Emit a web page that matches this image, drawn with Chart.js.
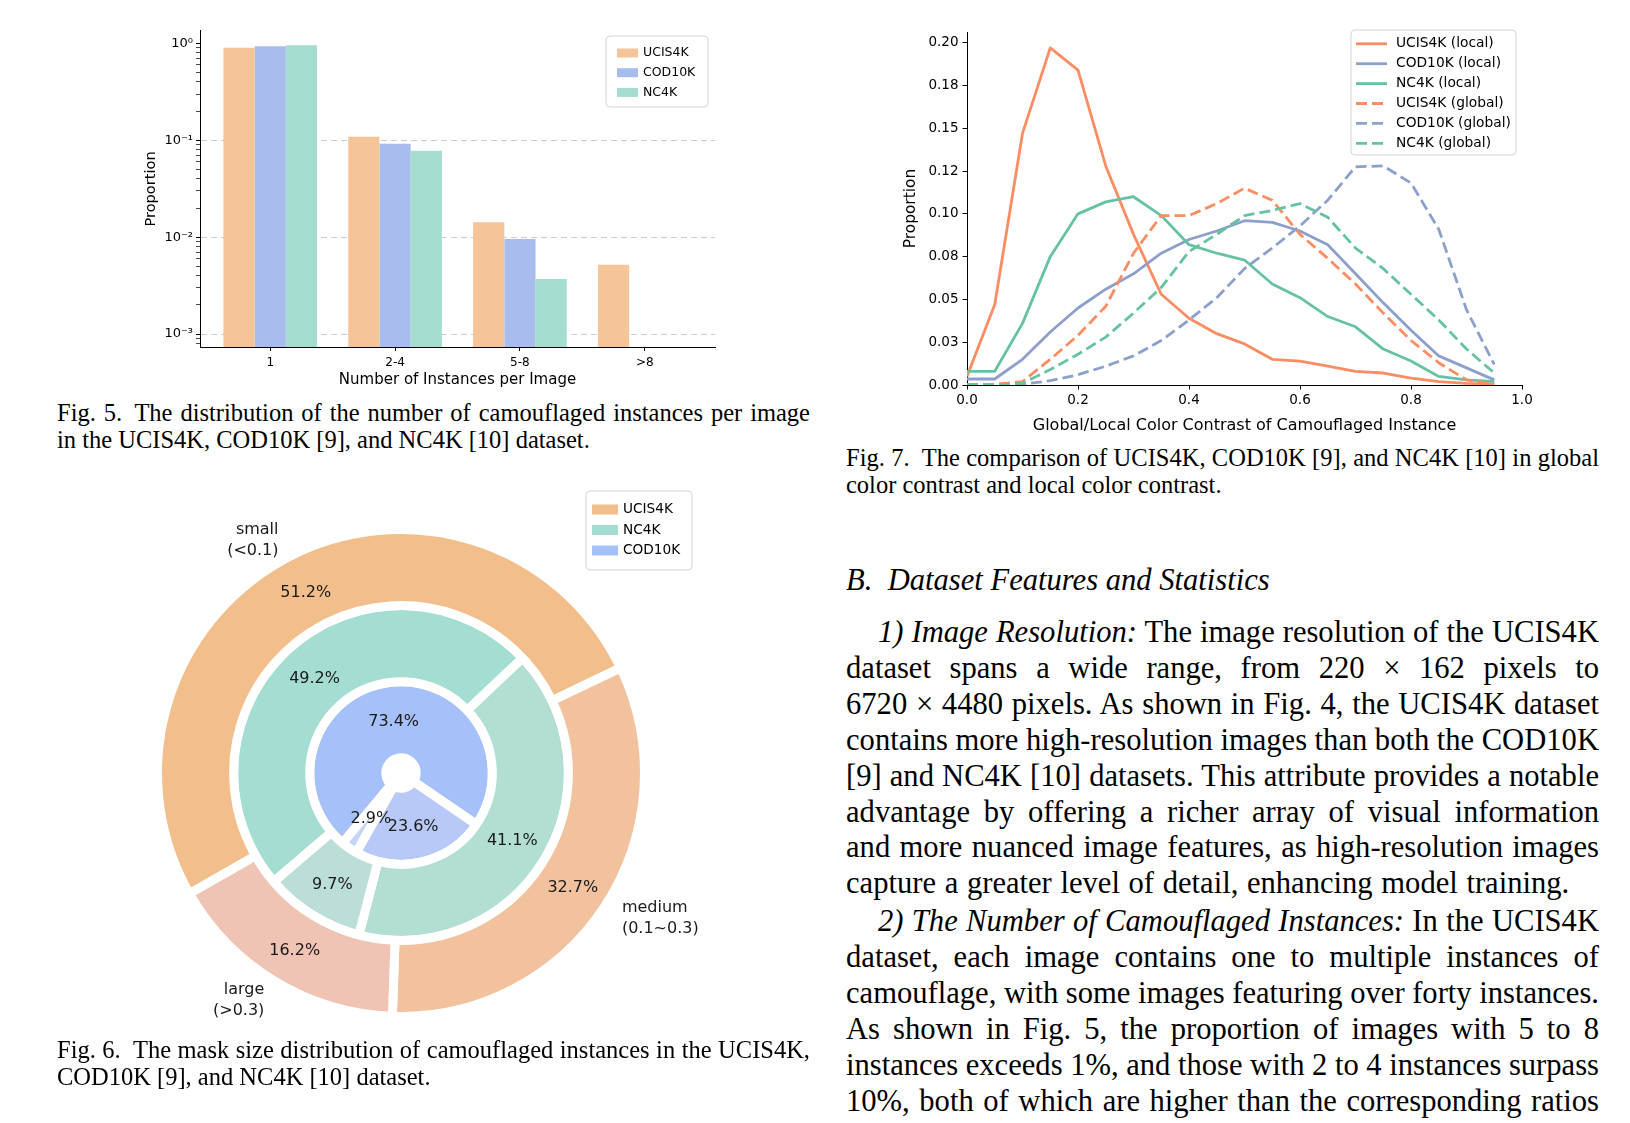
<!DOCTYPE html>
<html lang="en">
<head>
<meta charset="UTF-8">
<title>UCIS4K statistics</title>
<script src="https://cdn.jsdelivr.net/npm/chart.js"></script>
<style>
    html, body { margin: 0; padding: 0; background: #fff; }
    body { width: 1630px; height: 1123px; position: relative; overflow: hidden; }
    canvas { position: absolute; }
    .t { position: absolute; font-family: "Liberation Serif", "Times New Roman", serif; color: #000; }
    .cap { font-size: 24.5px; line-height: 26.5px; width: 753px; }
    .body { font-size: 30.6px; line-height: 35.9px; width: 753px; }
    .j { text-align: justify; text-align-last: justify; white-space: nowrap; word-spacing: -2px; }
</style>
</head>
<body>

<canvas id="barChart" width="600" height="370" style="left:130px;top:20px"></canvas>
<canvas id="lineChart" width="665" height="417" style="left:880px;top:20px"></canvas>
<canvas id="donutChart" width="580" height="560" style="left:140px;top:480px"></canvas>

<div class="t cap" style="left:57px;top:400px">
    <div class="j">Fig. 5.&ensp;The distribution of the number of camouflaged instances per image</div>
    <div>in the UCIS4K, COD10K [9], and NC4K [10] dataset.</div>
</div>

<div class="t cap" style="left:57px;top:1037px">
    <div class="j">Fig. 6.&ensp;The mask size distribution of camouflaged instances in the UCIS4K,</div>
    <div>COD10K [9], and NC4K [10] dataset.</div>
</div>

<div class="t cap" style="left:846px;top:445px">
    <div class="j">Fig. 7.&ensp;The comparison of UCIS4K, COD10K [9], and NC4K [10] in global</div>
    <div>color contrast and local color contrast.</div>
</div>

<div class="t" style="left:846px;top:563px;font-size:30.6px;line-height:35.9px;font-style:italic">B.&ensp;Dataset Features and Statistics</div>

<div class="t body" style="left:846px;top:615px">
    <div class="j" style="padding-left:32px"><i>1) Image Resolution:</i> The image resolution of the UCIS4K</div>
    <div class="j">dataset spans a wide range, from 220 &times; 162 pixels to</div>
    <div class="j">6720 &times; 4480 pixels. As shown in Fig. 4, the UCIS4K dataset</div>
    <div class="j">contains more high-resolution images than both the COD10K</div>
    <div class="j">[9] and NC4K [10] datasets. This attribute provides a notable</div>
    <div class="j">advantage by offering a richer array of visual information</div>
    <div class="j">and more nuanced image features, as high-resolution images</div>
    <div style="word-spacing:1px">capture a greater level of detail, enhancing model training.</div>
</div>

<div class="t body" style="left:846px;top:904px">
    <div class="j" style="padding-left:32px"><i>2) The Number of Camouflaged Instances:</i> In the UCIS4K</div>
    <div class="j">dataset, each image contains one to multiple instances of</div>
    <div class="j">camouflage, with some images featuring over forty instances.</div>
    <div class="j">As shown in Fig. 5, the proportion of images with 5 to 8</div>
    <div class="j">instances exceeds 1%, and those with 2 to 4 instances surpass</div>
    <div class="j">10%, both of which are higher than the corresponding ratios</div>
</div>

<script>
// Fig. 5 - instances per image (log scale)
const countBins = ["1", "2-4", "5-8", ">8"];
const ucisShare = [0.90, 0.109, 0.0143, 0.0052];
const codShare = [0.935, 0.092, 0.0096, null];
const nc4kShare = [0.96, 0.078, 0.0037, null];
const decadeValues = [0.001, 0.01, 0.1, 1];
const decadeLabels = ["10⁻³", "10⁻²", "10⁻¹", "10⁰"];

// Fig. 7 - colour contrast curves
const contrastBins = [0, 0.05, 0.1, 0.15, 0.2, 0.25, 0.3, 0.35, 0.4, 0.45, 0.5, 0.55, 0.6, 0.65, 0.7, 0.75, 0.8, 0.85, 0.9, 0.95];
const ucisLocal = [0.005, 0.047, 0.147, 0.197, 0.184, 0.128, 0.088, 0.053, 0.039, 0.030, 0.024, 0.015, 0.014, 0.011, 0.008, 0.007, 0.004, 0.002, 0.001, 0.0005];
const codLocal = [0.0035, 0.0035, 0.015, 0.031, 0.045, 0.056, 0.065, 0.077, 0.085, 0.090, 0.096, 0.095, 0.090, 0.082, 0.065, 0.048, 0.032, 0.017, 0.010, 0.003];
const nc4kLocal = [0.008, 0.008, 0.036, 0.075, 0.100, 0.107, 0.110, 0.099, 0.082, 0.077, 0.073, 0.059, 0.051, 0.040, 0.034, 0.021, 0.014, 0.005, 0.003, 0.002];
const ucisGlobal = [0.0004, 0.0004, 0.002, 0.015, 0.029, 0.046, 0.077, 0.099, 0.099, 0.106, 0.115, 0.108, 0.088, 0.074, 0.059, 0.042, 0.026, 0.013, 0.003, 0.0004];
const codGlobal = [0, 0, 0.0004, 0.0025, 0.006, 0.011, 0.017, 0.026, 0.038, 0.051, 0.068, 0.080, 0.093, 0.108, 0.1275, 0.128, 0.118, 0.091, 0.044, 0.012];
const nc4kGlobal = [0, 0, 0.001, 0.009, 0.018, 0.028, 0.042, 0.057, 0.078, 0.088, 0.099, 0.102, 0.106, 0.098, 0.080, 0.068, 0.053, 0.038, 0.021, 0.007];
const contrastTickLabels = ["0.00", "0.03", "0.05", "0.08", "0.10", "0.12", "0.15", "0.18", "0.20"];

// Fig. 6 - mask size rings
const sizeNames = [["small", "(<0.1)"], ["medium", "(0.1~0.3)"], ["large", "(>0.3)"]];
const ucisMask = [51.2, 32.7, 16.2];
const nc4kMask = [49.2, 41.1, 9.7];
const codMask = [73.4, 23.6, 2.9];

Chart.defaults.font.family = '"DejaVu Sans", sans-serif';
Chart.defaults.color = "#000";

const set2 = { orange: "#fc8d62", blue: "#8da0cb", green: "#66c2a5" };

function isDecade(v) {
    if (!v) return false;
    const l = Math.log10(v);
    return Math.abs(l - Math.round(l)) < 1e-9;
}

// legend in a rounded box, matplotlib style
const boxLegend = {
    id: "boxLegend",
    afterDraw(chart, args, o) {
        const ctx = chart.ctx;
        const [bx, by, bw, bh] = o.box;
        ctx.save();
        ctx.beginPath();
        const r = 4;
        ctx.moveTo(bx + r, by);
        ctx.arcTo(bx + bw, by, bx + bw, by + bh, r);
        ctx.arcTo(bx + bw, by + bh, bx, by + bh, r);
        ctx.arcTo(bx, by + bh, bx, by, r);
        ctx.arcTo(bx, by, bx + bw, by, r);
        ctx.closePath();
        ctx.fillStyle = "rgba(255,255,255,0.85)";
        ctx.fill();
        ctx.strokeStyle = "#d5d5d5";
        ctx.lineWidth = 1;
        ctx.stroke();

        ctx.font = o.fontSize + 'px "DejaVu Sans"';
        ctx.textBaseline = "middle";
        ctx.textAlign = "left";
        chart.data.datasets.forEach((ds, i) => {
            const y = o.rowY + i * o.rowStep;
            if (o.kind === "line") {
                ctx.strokeStyle = ds.borderColor;
                ctx.lineWidth = ds.borderWidth;
                ctx.setLineDash(ds.borderDash || []);
                ctx.beginPath();
                ctx.moveTo(o.handleX, y);
                ctx.lineTo(o.handleX + o.handleW, y);
                ctx.stroke();
                ctx.setLineDash([]);
            } else {
                const c = Array.isArray(ds.backgroundColor) ? ds.backgroundColor[0] : ds.backgroundColor;
                ctx.fillStyle = c;
                ctx.fillRect(o.handleX, y - o.handleH / 2, o.handleW, o.handleH);
            }
            ctx.fillStyle = "#000";
            ctx.fillText(ds.label, o.textX, y);
        });
        ctx.restore();
    }
};

// percent labels inside the rings and size names outside
const donutText = {
    id: "donutText",
    afterDatasetsDraw(chart) {
        const ctx = chart.ctx;
        ctx.save();
        ctx.font = '16px "DejaVu Sans"';
        ctx.fillStyle = "#1a1a1a";
        ctx.textBaseline = "middle";
        ctx.textAlign = "center";
        chart.data.datasets.forEach((ds, di) => {
            chart.getDatasetMeta(di).data.forEach((arc, i) => {
                const mid = (arc.startAngle + arc.endAngle) / 2;
                const rr = (arc.innerRadius + arc.outerRadius) / 2;
                ctx.fillText(ds.data[i].toFixed(1) + "%", arc.x + Math.cos(mid) * rr, arc.y + Math.sin(mid) * rr + 2);
            });
        });
        const bw = chart.data.datasets[0].borderWidth || 0;
        chart.getDatasetMeta(0).data.forEach((arc, i) => {
            const mid = (arc.startAngle + arc.endAngle) / 2;
            const rr = 1.105 * (arc.outerRadius - bw / 2);
            const lx = arc.x + Math.cos(mid) * rr;
            const ly = arc.y + Math.sin(mid) * rr + 1;
            ctx.textAlign = lx < arc.x ? "right" : "left";
            const lines = sizeNames[i];
            lines.forEach((t, k) => ctx.fillText(t, lx, ly + (k - (lines.length - 1) / 2) * 21));
        });
        ctx.restore();
    }
};

// ---------- Fig. 5 bar chart ----------
new Chart(document.getElementById("barChart"), {
    type: "bar",
    data: {
        datasets: [
            { label: "UCIS4K", data: ucisShare.map((v, i) => ({ x: i, y: v })), backgroundColor: "#f6c499" },
            { label: "COD10K", data: codShare.map((v, i) => ({ x: i, y: v })), backgroundColor: "#a8bdee" },
            { label: "NC4K", data: nc4kShare.map((v, i) => ({ x: i, y: v })), backgroundColor: "#a5ddd1" }
        ]
    },
    options: {
        responsive: false,
        animation: false,
        layout: { padding: { top: 9, right: 15, left: 0, bottom: 0 } },
        datasets: { bar: { categoryPercentage: 0.75, barPercentage: 1.0 } },
        plugins: {
            legend: { display: false },
            tooltip: { enabled: false },
            boxLegend: { box: [476, 16, 102, 71], kind: "patch", rowY: 33, rowStep: 19.7, handleX: 487, handleW: 21, handleH: 9, textX: 513, fontSize: 12.5 }
        },
        scales: {
            x: {
                type: "linear",
                offset: false,
                min: -0.5625,
                max: 3.5625,
                afterBuildTicks: s => { s.ticks = countBins.map((_, i) => ({ value: i })); },
                afterFit: s => { s.height = 43; },
                grid: { drawOnChartArea: false, drawTicks: true, tickLength: 4, tickColor: "#000", offset: false },
                border: { color: "#000", width: 1 },
                ticks: { padding: 5, font: { size: 12 }, color: "#000", callback: v => countBins[v] ?? "" },
                title: { display: true, text: "Number of Instances per Image", font: { size: 15 }, color: "#000", padding: { top: 0, bottom: 1 } }
            },
            y: {
                type: "logarithmic",
                min: 7.36e-4,
                max: 1.35,
                afterBuildTicks: s => {
                    const t = [];
                    for (let e = -4; e <= 0; e++) {
                        for (let m = 1; m <= 9; m++) {
                            const v = m * Math.pow(10, e);
                            if (v >= s.min && v <= s.max) t.push({ value: v });
                        }
                    }
                    s.ticks = t;
                },
                afterFit: s => { s.width = 70; },
                grid: {
                    color: c => (c.tick && isDecade(c.tick.value) && c.tick.value < 0.5) ? "rgba(200,200,200,0.9)" : "rgba(0,0,0,0)",
                    lineWidth: 1,
                    tickLength: 4,
                    tickColor: "#000",
                    tickWidth: c => (c.tick && isDecade(c.tick.value)) ? 1 : 0.7
                },
                border: { color: "#000", width: 1, dash: [6, 4] },
                ticks: {
                    padding: 3,
                    autoSkip: false,
                    font: { size: 13 },
                    color: "#000",
                    callback: v => {
                        const k = decadeValues.findIndex(d => Math.abs(Math.log10(d) - Math.log10(v)) < 1e-9);
                        return k >= 0 ? decadeLabels[k] : "";
                    }
                },
                title: { display: true, text: "Proportion", font: { size: 14.6 }, color: "#000", padding: { top: 12, bottom: 0 } }
            }
        }
    },
    plugins: [boxLegend]
});

// ---------- Fig. 7 line chart ----------
const lineSets = [
    ["UCIS4K (local)", ucisLocal, set2.orange, []],
    ["COD10K (local)", codLocal, set2.blue, []],
    ["NC4K (local)", nc4kLocal, set2.green, []],
    ["UCIS4K (global)", ucisGlobal, set2.orange, [11, 5]],
    ["COD10K (global)", codGlobal, set2.blue, [11, 5]],
    ["NC4K (global)", nc4kGlobal, set2.green, [11, 5]]
];

new Chart(document.getElementById("lineChart"), {
    type: "line",
    data: {
        datasets: lineSets.map(([label, vals, color, dash], i) => ({
            label: label,
            data: vals.map((v, k) => ({ x: contrastBins[k], y: v })),
            borderColor: color,
            borderWidth: 2.8,
            borderDash: dash,
            borderJoinStyle: "round",
            pointRadius: 0,
            tension: 0,
            fill: false,
            order: lineSets.length - i
        }))
    },
    options: {
        responsive: false,
        animation: false,
        layout: { padding: { top: 11, right: 23, left: 0, bottom: 0 } },
        plugins: {
            legend: { display: false },
            tooltip: { enabled: false },
            boxLegend: { box: [471, 10, 165, 125], kind: "line", rowY: 23.8, rowStep: 19.9, handleX: 476, handleW: 31, handleH: 0, textX: 516, fontSize: 13.8 }
        },
        scales: {
            x: {
                type: "linear",
                min: 0,
                max: 1,
                afterBuildTicks: s => { s.ticks = [0, 0.2, 0.4, 0.6, 0.8, 1.0].map(v => ({ value: v })); },
                afterFit: s => { s.height = 52; },
                grid: { drawOnChartArea: false, drawTicks: true, tickLength: 4.5, tickColor: "#000" },
                border: { color: "#000", width: 1 },
                ticks: { padding: 3, font: { size: 13.5 }, color: "#000", callback: v => v.toFixed(1) },
                title: { display: true, text: "Global/Local Color Contrast of Camouflaged Instance", font: { size: 16 }, color: "#000", padding: { top: 0, bottom: 1.4 } }
            },
            y: {
                type: "linear",
                min: 0,
                max: 0.2062,
                afterBuildTicks: s => { s.ticks = contrastTickLabels.map((_, i) => ({ value: i * 0.025 })); },
                afterFit: s => { s.width = 87; },
                grid: { drawOnChartArea: false, drawTicks: true, tickLength: 4.5, tickColor: "#000" },
                border: { color: "#000", width: 1 },
                ticks: {
                    padding: 4,
                    autoSkip: false,
                    font: { size: 13.5 },
                    color: "#000",
                    callback: v => contrastTickLabels[Math.round(v / 0.025)] ?? ""
                },
                title: { display: true, text: "Proportion", font: { size: 15.4 }, color: "#000", padding: { top: 21.8, bottom: 0 } }
            }
        }
    },
    plugins: [boxLegend]
});

// ---------- Fig. 6 nested donut ----------
new Chart(document.getElementById("donutChart"), {
    type: "doughnut",
    data: {
        labels: sizeNames.map(n => n[0]),
        datasets: [
            { label: "UCIS4K", data: ucisMask, backgroundColor: ["#f2be8c", "#f2c29e", "#efc4b5"], borderColor: "#fff", borderWidth: 9, rotation: -119.7 },
            { label: "NC4K", data: nc4kMask, backgroundColor: ["#a4ded2", "#b2ded4", "#bcded8"], borderColor: "#fff", borderWidth: 9, rotation: -130.5 },
            { label: "COD10K", data: codMask, backgroundColor: ["#a6c0fa", "#b8c9f8", "#c6d4f5"], borderColor: "#fff", borderWidth: 9, rotation: -140.2 }
        ]
    },
    options: {
        responsive: false,
        animation: false,
        radius: 243.5,
        cutout: 16,
        layout: { padding: { top: 26, right: 58, left: 0, bottom: 0 } },
        plugins: {
            legend: { display: false },
            tooltip: { enabled: false },
            boxLegend: { box: [446, 11, 106, 79], kind: "patch", rowY: 29.5, rowStep: 20.5, handleX: 452, handleW: 26, handleH: 10, textX: 483, fontSize: 13.7 }
        }
    },
    plugins: [boxLegend, donutText]
});
</script>
</body>
</html>
